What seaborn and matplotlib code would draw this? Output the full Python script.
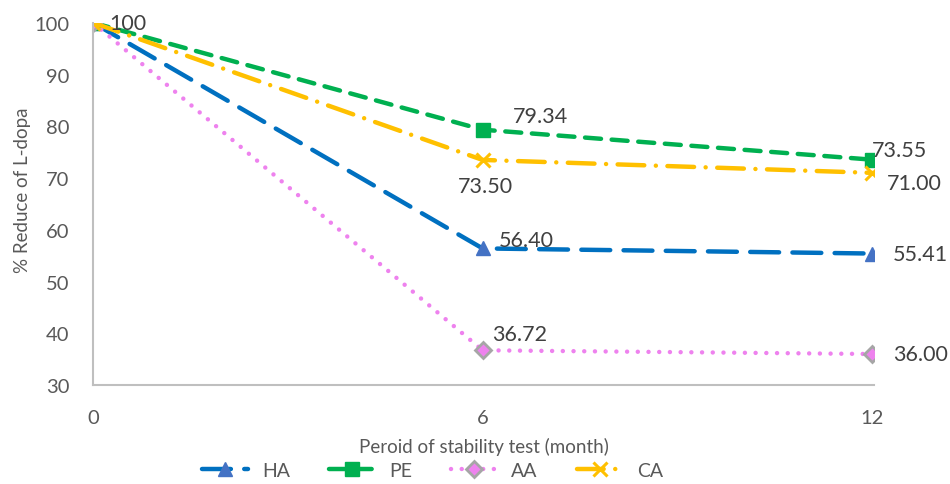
import matplotlib
matplotlib.use("Agg")
import matplotlib.pyplot as plt
from matplotlib.lines import Line2D
import seaborn as sns
import pandas as pd

months = [0, 6, 12]
series_names = ["HA", "PE", "AA", "CA"]
ha_values = [100, 56.40, 55.41]
pe_values = [100, 79.34, 73.55]
aa_values = [100, 36.72, 36.00]
ca_values = [100, 73.50, 71.00]
y_ticks = [30, 40, 50, 60, 70, 80, 90, 100]

sns.set_theme(style="white")
plt.rcParams["font.family"] = ["Lato", "DejaVu Sans"]

df = pd.DataFrame({
    "month": months * 4,
    "value": ha_values + pe_values + aa_values + ca_values,
    "series": [s for s in series_names for _ in months],
})

styles = {
    "HA": dict(color="#0070C0", dashes=(6.5, 3.0), marker="^", mfc="#4472C4", mec="#4472C4", ms=10, mew=1),
    "PE": dict(color="#00B050", dashes=(3.6, 2.4), marker="s", mfc="#00B050", mec="#00B050", ms=10, mew=1),
    "AA": dict(color="#EE82EE", dashes=(0.01, 2.4), marker="D", mfc="#EE82EE", mec="#A6A6A6", ms=8, mew=2),
    "CA": dict(color="#FFC000", dashes=(6.0, 2.6, 0.01, 2.6), marker="x", mfc="#FFC000", mec="#FFC000", ms=10, mew=2.2),
}

fig = plt.figure(figsize=(9.5, 4.85), dpi=100)
ax = fig.add_axes([0.098, 0.204, 0.822, 0.747])

palette = {k: v["color"] for k, v in styles.items()}
sns.lineplot(data=df, x="month", y="value", hue="series", palette=palette,
             ax=ax, legend=False, linewidth=3.2, sort=False)

for line, name in zip(ax.get_lines(), series_names):
    st = styles[name]
    line.set_dashes(st["dashes"])
    line.set_dash_capstyle("round")
    line.set_marker(st["marker"])
    line.set_markersize(st["ms"])
    line.set_markerfacecolor(st["mfc"])
    line.set_markeredgecolor(st["mec"])
    line.set_markeredgewidth(st["mew"])

label_color = "#404040"
fs = 15.5


def value_label(text, x, y, dx, dy):
    ax.annotate(text, (x, y), xytext=(dx, dy), textcoords="offset points",
                va="center", ha="left", fontsize=fs, color=label_color)


value_label("100", months[0], 100, 12, 0)
value_label(f"{pe_values[1]:.2f}", months[1], pe_values[1], 22, 10)
value_label(f"{ca_values[1]:.2f}", months[1], ca_values[1], -18, -19)
value_label(f"{ha_values[1]:.2f}", months[1], ha_values[1], 12, 6)
value_label(f"{aa_values[1]:.2f}", months[1], aa_values[1], 7, 12)
value_label(f"{pe_values[2]:.2f}", months[2], pe_values[2], 0, 7)
value_label(f"{ca_values[2]:.2f}", months[2], ca_values[2], 11, -7)
value_label(f"{ha_values[2]:.2f}", months[2], ha_values[2], 15, 0)
value_label(f"{aa_values[2]:.2f}", months[2], aa_values[2], 15, 0)

ax.set_xlim(0, 12.03)
ax.set_ylim(30, 100)
ax.set_xticks(months)
ax.set_yticks(y_ticks)
ax.tick_params(axis="both", length=0, labelsize=14.5, labelcolor="#595959")
ax.tick_params(axis="x", pad=17)
ax.tick_params(axis="y", pad=17)
for s in ["top", "right"]:
    ax.spines[s].set_visible(False)
for s in ["left", "bottom"]:
    ax.spines[s].set_color("#BFBFBF")
    ax.spines[s].set_linewidth(1.5)

ax.set_xlabel("Peroid of stability test (month)", fontsize=13.5, color="#595959", labelpad=8)
ax.set_ylabel("% Reduce of L-dopa", fontsize=13.5, color="#595959")
ax.yaxis.set_label_coords(-0.080, 0.54)

handles = []
for name in series_names:
    st = styles[name]
    handles.append(Line2D([0], [0], color=st["color"], lw=3.2, dashes=st["dashes"],
                          dash_capstyle="round", marker=st["marker"], markersize=st["ms"],
                          markerfacecolor=st["mfc"], markeredgecolor=st["mec"],
                          markeredgewidth=st["mew"]))
leg = fig.legend(handles, series_names, loc="center", bbox_to_anchor=(0.455, 0.028),
                 ncol=4, frameon=False, fontsize=14, handlelength=2.4,
                 columnspacing=2.0, handletextpad=0.7)
for t in leg.get_texts():
    t.set_color("#595959")

fig.savefig("out.png", dpi=100)
